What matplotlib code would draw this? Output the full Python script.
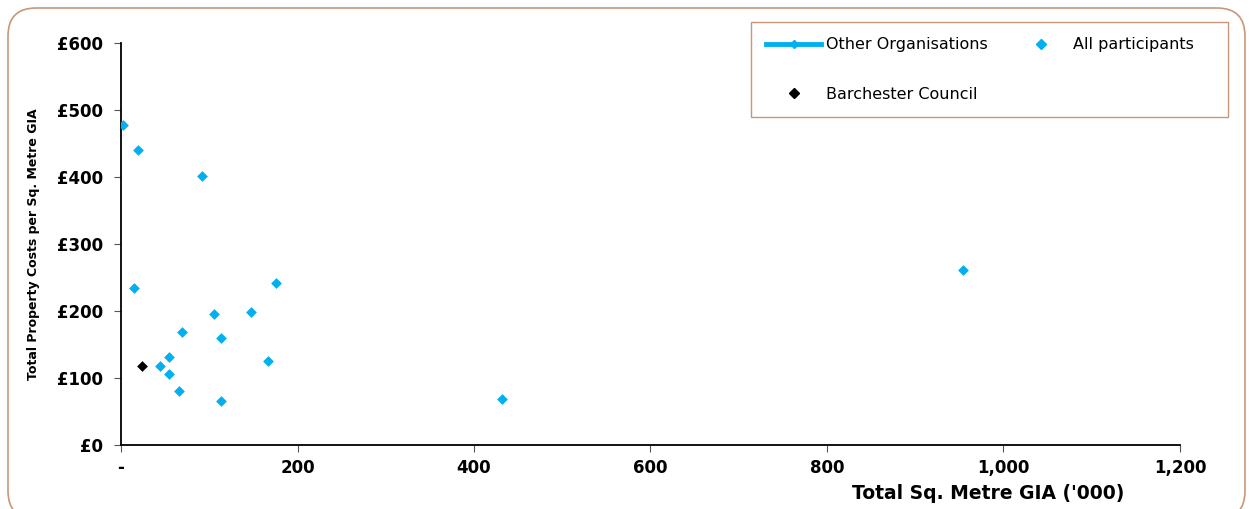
import matplotlib.pyplot as plt
import matplotlib.patches as patches
from matplotlib.lines import Line2D
from matplotlib.ticker import FuncFormatter

# data
sqm_all = [2.6, 18.9, 91.4, 15.1, 175.3, 105.8, 147.3, 69.1, 113.3, 54.4,
           44.6, 54.0, 166.2, 65.7, 113.3, 431.9, 954.0]
cost_all = [477, 440, 402, 234, 242, 195, 198, 168, 160, 131,
            118, 106, 125, 81, 66, 69, 261]
sqm_council = [23.8]
cost_council = [118]

x_ticks = [0, 200, 400, 600, 800, 1000, 1200]
y_ticks = [0, 100, 200, 300, 400, 500, 600]

cyan = '#00b0f0'
border = '#c8977a'

fig = plt.figure(figsize=(12.53, 5.09), dpi=100)
ax = fig.add_axes([0.0966, 0.1257, 0.8451, 0.7898])

ax.scatter(sqm_all, cost_all, marker='D', s=30, color=cyan, linewidths=0, zorder=3)
ax.scatter(sqm_council, cost_council, marker='D', s=30, color='black', linewidths=0, zorder=4)

ax.set_xlim(0, 1200)
ax.set_ylim(0, 600)
ax.set_xticks(x_ticks)
ax.set_yticks(y_ticks)
ax.xaxis.set_major_formatter(FuncFormatter(lambda v, p: '-' if v == 0 else f'{int(v):,}'))
ax.yaxis.set_major_formatter(FuncFormatter(lambda v, p: f'£{int(v)}'))
for s in ['top', 'right']:
    ax.spines[s].set_visible(False)
for s in ['left', 'bottom']:
    ax.spines[s].set_linewidth(1.3)
ax.tick_params(axis='both', length=5, width=0.8, color='#555555')
ax.tick_params(axis='x', pad=5)
ax.tick_params(axis='y', pad=8)
for lbl in ax.get_xticklabels() + ax.get_yticklabels():
    lbl.set_fontweight('bold')
    lbl.set_fontsize(12)

ax.set_xlabel("Total Sq. Metre GIA ('000)", fontsize=13.5, fontweight='bold')
ax.xaxis.set_label_coords(0.819, -0.098)
ax.set_ylabel('Total Property Costs per Sq. Metre GIA', fontsize=9, fontweight='bold')
ax.yaxis.set_label_coords(-0.077, 0.5)

# legend frame drawn separately so its size can match the reference
fig.patches.append(patches.Rectangle((751 / 1253, 1 - 117 / 509), 477 / 1253, 95 / 509,
                                     transform=fig.transFigure, fill=False,
                                     edgecolor=border, linewidth=1))

handles = [
    Line2D([], [], color=cyan, lw=3.5, marker='D', markersize=4, markerfacecolor=cyan),
    Line2D([], [], color='black', lw=0, marker='D', markersize=5.5),
    Line2D([], [], color=cyan, lw=0, marker='D', markersize=5.5),
]
labels = ['Other Organisations', 'Barchester Council', 'All participants']
fig.legend(handles, labels, ncol=2, loc='upper left',
           bbox_to_anchor=(751 / 1253, 1 - 22 / 509),
           fontsize=11.5, frameon=False, borderaxespad=0,
           handlelength=3.45, handletextpad=0.3, labelspacing=2.15,
           borderpad=0.95, columnspacing=1.6)

box = patches.FancyBboxPatch((8, -10), 1237, 511, boxstyle='round,pad=0,rounding_size=28',
                             transform=None, fill=False, edgecolor=border, linewidth=1.2)
fig.patches.append(box)

fig.savefig('out.png', dpi=100)
